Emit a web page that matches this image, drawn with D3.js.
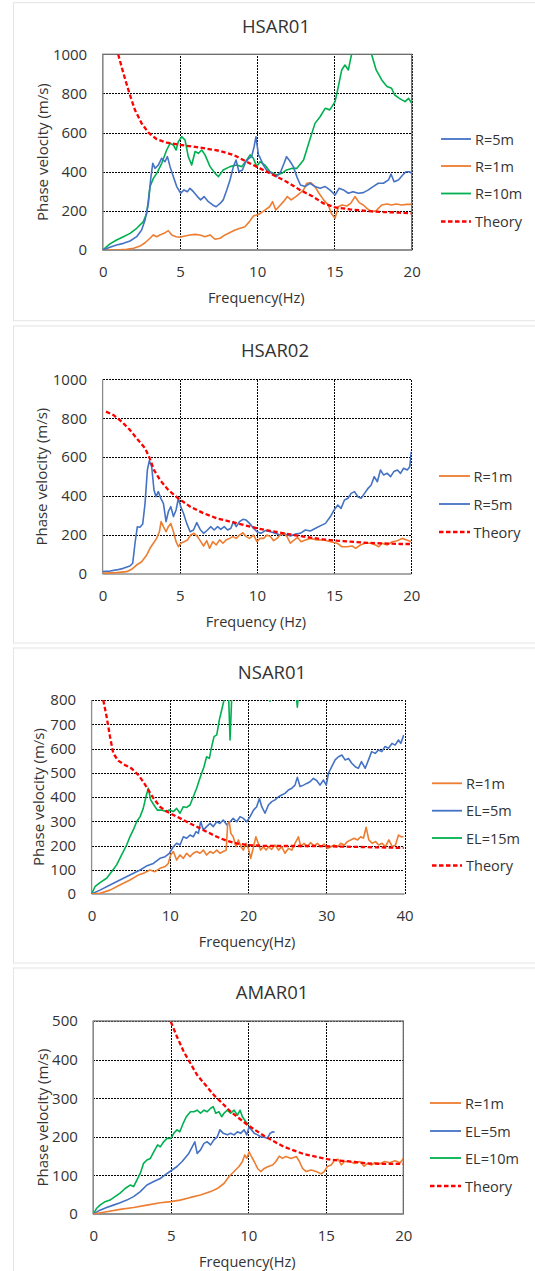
<!DOCTYPE html>
<html>
<head>
<meta charset="utf-8">
<script src="https://cdn.jsdelivr.net/npm/d3@7"></script>
<style>
  body { margin: 0; background: #fff; font-family: "Open Sans", sans-serif; }
</style>
</head>
<body>
<div id="chart"></div>
<script>
/* DATA : [frequency (Hz), phase velocity (m/s)] */

// HSAR01
const hsar01R5 = [[0,0],[0.47,14],[0.9,26],[1.34,34],[1.77,46],[2.2,68],[2.52,102],[2.74,153],[2.96,239],[3.1,358],[3.24,443],[3.39,417],[3.6,434],[3.82,469],[4.03,451],[4.19,477],[4.36,426],[4.57,375],[4.79,324],[5.05,290],[5.26,307],[5.48,298],[5.65,315],[5.87,298],[6.13,273],[6.34,256],[6.56,273],[6.84,247],[7.12,230],[7.34,221],[7.6,238],[7.8,256],[8.03,307],[8.24,358],[8.46,426],[8.63,460],[8.82,400],[9.04,409],[9.26,451],[9.47,469],[9.64,477],[9.8,528],[9.92,579],[10.08,486],[10.2,469],[10.4,434],[10.6,409],[10.94,392],[11.26,375],[11.52,400],[11.74,443],[11.9,477],[12.1,456],[12.34,426],[12.56,375],[12.8,332],[13.1,324],[13.42,341],[13.74,324],[14.07,315],[14.4,324],[14.7,307],[15.04,281],[15.3,315],[15.58,307],[15.9,290],[16.2,298],[16.55,290],[16.87,293],[17.2,307],[17.5,324],[17.84,341],[18.17,341],[18.5,358],[18.66,388],[18.86,349],[19.14,358],[19.42,383],[19.63,400],[19.85,400],[20,392]];
const hsar01R1 = [[0,0],[0.9,0],[1.55,3],[2.0,9],[2.42,20],[2.74,37],[3.06,60],[3.28,77],[3.5,68],[3.7,77],[3.97,85],[4.25,99],[4.47,77],[4.75,68],[5.0,65],[5.33,72],[5.65,77],[5.98,80],[6.3,77],[6.62,68],[6.95,77],[7.27,55],[7.6,60],[7.92,77],[8.24,89],[8.57,102],[8.9,111],[9.2,119],[9.5,145],[9.75,174],[9.97,179],[10.2,187],[10.5,204],[10.8,221],[11.0,247],[11.2,204],[11.4,221],[11.7,247],[11.95,273],[12.2,256],[12.5,273],[12.77,290],[13.0,307],[13.2,341],[13.46,344],[13.74,324],[14.0,290],[14.3,256],[14.6,230],[14.8,187],[15.04,162],[15.25,221],[15.5,230],[15.8,225],[16.05,238],[16.33,273],[16.6,242],[16.87,230],[17.1,213],[17.4,196],[17.7,201],[18.06,230],[18.4,235],[18.7,230],[19.0,235],[19.35,230],[19.68,233],[20,233]];
const hsar01R10 = [[0,0],[0.47,31],[0.9,51],[1.34,68],[1.77,85],[2.2,111],[2.63,145],[2.85,187],[3.06,324],[3.28,366],[3.5,392],[3.82,443],[4.14,511],[4.36,545],[4.57,537],[4.75,511],[4.9,554],[5.11,579],[5.33,562],[5.54,477],[5.76,434],[5.98,503],[6.19,494],[6.41,511],[6.62,486],[6.95,426],[7.27,392],[7.49,375],[7.8,409],[8.24,426],[8.67,434],[9.0,426],[9.32,460],[9.54,486],[9.75,469],[9.97,426],[10.18,451],[10.5,434],[10.83,400],[11.26,383],[11.59,392],[11.9,409],[12.23,417],[12.56,417],[13.0,460],[13.4,562],[13.74,647],[14.07,681],[14.4,724],[14.7,716],[15.04,758],[15.25,835],[15.47,920],[15.68,945],[15.9,920],[16.1,997],[16.5,1060],[17.0,1080],[17.4,1000],[17.7,920],[18.06,869],[18.4,835],[18.7,826],[18.9,792],[19.2,775],[19.57,758],[19.8,775],[20,750]];
const hsar01Theory = [[1.0,1000],[1.34,903],[1.73,800],[2.09,715],[2.52,647],[2.96,600],[3.5,566],[4.14,549],[5.0,537],[5.87,528],[6.73,518],[7.6,506],[8.46,486],[9.32,451],[10.18,417],[11.05,383],[11.9,349],[12.77,307],[13.6,273],[14.3,238],[15.04,218],[16.0,208],[17.1,199],[18.2,194],[19.2,191],[20,187]];

// HSAR02
const hsar02R1 = [[0,3],[0.9,7],[1.56,12],[1.88,24],[2.2,46],[2.53,63],[2.86,98],[3.07,132],[3.29,158],[3.5,183],[3.68,217],[3.79,269],[3.94,243],[4.11,217],[4.26,243],[4.42,260],[4.59,217],[4.76,166],[4.91,140],[5.06,158],[5.28,166],[5.5,175],[5.71,200],[5.93,209],[6.15,192],[6.36,166],[6.54,144],[6.75,171],[6.93,132],[7.14,166],[7.36,149],[7.58,175],[7.8,158],[8.0,175],[8.22,183],[8.44,192],[8.66,183],[8.87,200],[9.09,212],[9.3,192],[9.52,183],[9.78,200],[10.0,166],[10.2,183],[10.43,183],[10.65,200],[10.87,192],[11.08,171],[11.3,183],[11.5,200],[11.73,212],[11.95,192],[12.16,158],[12.42,175],[12.64,188],[12.86,166],[13.14,175],[13.46,183],[13.9,175],[14.33,175],[14.76,166],[15.2,158],[15.5,140],[15.84,140],[16.17,144],[16.4,132],[16.7,149],[17.0,158],[17.36,158],[17.68,149],[17.9,140],[18.1,158],[18.44,149],[18.77,166],[19.1,171],[19.4,183],[19.7,175],[20,166]];
const hsar02R5 = [[0,12],[0.48,15],[0.9,21],[1.34,29],[1.77,41],[1.95,55],[2.1,158],[2.25,243],[2.42,240],[2.6,257],[2.75,363],[2.9,534],[3.03,582],[3.18,551],[3.33,431],[3.46,397],[3.61,423],[3.77,389],[3.94,363],[4.11,269],[4.26,320],[4.42,346],[4.59,295],[4.76,329],[4.91,389],[5.06,346],[5.24,312],[5.45,260],[5.67,217],[5.89,226],[6.1,264],[6.32,229],[6.54,209],[6.8,226],[7.0,243],[7.23,226],[7.45,243],[7.66,229],[7.88,243],[8.1,226],[8.31,235],[8.48,269],[8.66,243],[8.87,269],[9.09,281],[9.3,277],[9.52,260],[9.78,235],[10.0,217],[10.26,209],[10.54,223],[10.87,217],[11.19,209],[11.5,200],[11.84,205],[12.16,195],[12.5,205],[12.8,209],[13.14,226],[13.46,221],[13.8,235],[14.1,247],[14.44,260],[14.76,295],[15.0,329],[15.24,354],[15.45,337],[15.67,380],[15.9,389],[16.1,414],[16.32,423],[16.54,397],[16.75,389],[16.97,414],[17.2,440],[17.4,457],[17.6,500],[17.8,474],[18.0,534],[18.2,509],[18.44,517],[18.66,500],[18.87,526],[19.1,534],[19.3,517],[19.5,543],[19.74,534],[19.9,551],[20,628]];
const hsar02Theory = [[0.22,834],[0.69,817],[1.23,783],[1.77,740],[2.3,688],[2.75,646],[3.03,599],[3.33,534],[3.72,483],[4.26,431],[4.9,389],[5.67,346],[6.54,312],[7.4,286],[8.27,269],[9.13,252],[10.0,235],[10.87,221],[11.73,209],[12.6,197],[13.46,187],[14.3,178],[15.2,171],[16.06,166],[16.9,161],[17.8,158],[18.66,156],[19.3,154],[20,154]];

// NSAR01
const nsar01R1 = [[0,0],[1.07,3],[2.35,16],[3.62,37],[4.9,58],[5.97,78],[6.8,88],[7.46,99],[8.1,92],[8.74,106],[9.4,113],[9.8,126],[10.1,161],[10.45,175],[10.87,140],[11.3,161],[11.73,147],[12.15,168],[12.58,154],[13.0,168],[13.43,175],[13.86,168],[14.3,181],[14.7,161],[15.14,175],[15.56,168],[16.0,181],[16.4,168],[16.84,175],[17.2,181],[17.4,291],[17.6,298],[17.8,250],[18.1,236],[18.46,195],[18.76,223],[19.1,195],[19.4,181],[19.74,209],[20.04,188],[20.34,147],[20.7,195],[21.0,236],[21.3,209],[21.6,181],[21.96,195],[22.3,181],[22.64,195],[23.0,184],[23.45,202],[23.9,181],[24.3,195],[24.73,168],[25.16,188],[25.6,181],[26.0,209],[26.44,236],[26.74,195],[27.16,209],[27.6,195],[28.0,212],[28.44,198],[28.87,209],[29.3,195],[29.72,206],[30.15,188],[30.6,195],[31.0,202],[31.43,195],[31.86,209],[32.3,202],[32.7,216],[33.13,223],[33.56,230],[34.0,223],[34.4,236],[34.75,230],[35.1,275],[35.44,223],[35.86,209],[36.3,216],[36.7,202],[37.14,209],[37.57,195],[38.0,223],[38.42,195],[38.85,202],[39.23,243],[39.57,236],[39.87,236]];
const nsar01EL5 = [[0,0],[1.07,16],[2.35,37],[3.62,58],[4.9,78],[6.2,99],[7.0,115],[7.9,126],[8.74,147],[9.4,154],[9.94,168],[10.45,195],[10.87,209],[11.3,202],[11.73,236],[12.15,230],[12.58,243],[13.0,236],[13.35,257],[13.65,250],[13.94,298],[14.3,264],[14.7,278],[15.14,291],[15.56,278],[16.0,298],[16.4,291],[16.84,305],[17.27,285],[17.7,298],[18.1,312],[18.55,298],[18.98,319],[19.4,312],[19.83,298],[20.26,319],[20.7,346],[21.1,360],[21.45,394],[21.75,360],[22.17,333],[22.6,367],[23.03,381],[23.45,388],[23.9,401],[24.3,408],[24.73,415],[25.16,429],[25.6,436],[26.0,449],[26.3,481],[26.65,443],[27.1,449],[27.5,456],[27.93,463],[28.36,477],[28.8,467],[29.2,449],[29.64,470],[30.0,449],[30.28,498],[30.7,525],[31.13,553],[31.56,566],[32.0,573],[32.4,553],[32.84,559],[33.26,539],[33.7,525],[34.1,518],[34.5,546],[34.97,518],[35.4,553],[35.8,587],[36.25,580],[36.67,594],[37.1,587],[37.5,608],[37.95,601],[38.4,621],[38.8,614],[39.23,635],[39.53,621],[39.9,656]];
const nsar01EL15 = [[0,0],[0.43,30],[1.07,47],[1.92,65],[2.56,92],[3.2,120],[3.84,161],[4.48,202],[4.9,236],[5.33,264],[5.76,298],[6.2,319],[6.6,353],[6.95,401],[7.25,436],[7.55,388],[7.97,367],[8.4,346],[8.95,346],[9.5,340],[9.94,346],[10.45,340],[10.87,353],[11.3,333],[11.73,360],[12.15,357],[12.58,367],[13.0,401],[13.43,436],[13.77,470],[14.07,498],[14.37,525],[14.7,566],[15.05,559],[15.35,608],[15.65,649],[16.0,656],[16.33,718],[16.63,759],[16.93,800],[17.2,880],[17.48,850],[17.7,635],[17.9,800],[18.3,900],[22.0,900],[22.8,795],[23.2,900],[26.0,880],[26.3,770],[26.6,880],[27.5,950]];
const nsar01Theory = [[1.49,800],[1.92,731],[2.35,649],[2.77,580],[3.4,550],[4.26,532],[5.1,518],[5.97,491],[6.6,463],[7.25,429],[7.9,395],[8.74,360],[9.6,340],[10.9,319],[12.15,298],[13.4,278],[14.7,257],[16.0,236],[17.3,219],[18.55,209],[19.8,202],[21.5,199],[24.1,198],[28.4,198],[32.6,195],[36.9,192],[39.9,190]];

// AMAR01
const amar01R1 = [[0,0],[0.86,6],[1.73,12],[2.6,17],[3.46,23],[4.32,29],[5.0,32],[5.6,36],[6.27,43],[6.92,49],[7.57,58],[8.0,66],[8.43,79],[8.76,97],[9.08,110],[9.4,123],[9.62,136],[9.77,153],[9.9,144],[10.05,161],[10.2,149],[10.38,136],[10.6,118],[10.8,110],[11.03,118],[11.29,123],[11.57,127],[11.78,136],[12.0,150],[12.2,144],[12.43,149],[12.76,144],[13.1,149],[13.3,136],[13.5,118],[13.73,110],[14.05,114],[14.38,110],[14.7,104],[14.9,110],[15.1,123],[15.35,127],[15.57,140],[15.8,142],[16.0,127],[16.2,136],[16.54,136],[16.86,131],[17.2,136],[17.47,124],[17.7,131],[17.95,127],[18.16,133],[18.5,130],[18.8,136],[19.14,133],[19.46,138],[19.8,133],[20,144]];
const amar01EL5 = [[0,0],[0.43,10],[0.86,17],[1.3,23],[1.73,29],[2.16,36],[2.6,45],[3.03,58],[3.46,75],[3.9,84],[4.32,92],[4.76,105],[5.08,114],[5.4,123],[5.73,136],[6.0,149],[6.16,157],[6.38,174],[6.55,187],[6.7,157],[6.92,166],[7.14,183],[7.35,187],[7.57,179],[7.78,192],[8.0,200],[8.17,218],[8.39,209],[8.65,205],[8.86,209],[9.08,205],[9.3,213],[9.5,209],[9.73,218],[9.9,205],[10.05,226],[10.2,218],[10.38,209],[10.6,205],[10.8,200],[11.03,199],[11.24,196],[11.4,209],[11.57,213],[11.7,212]];
const amar01EL10 = [[0,0],[0.22,15],[0.43,23],[0.76,32],[1.08,36],[1.4,45],[1.73,54],[2.05,66],[2.38,75],[2.6,71],[2.81,88],[3.03,105],[3.24,131],[3.46,140],[3.68,144],[3.9,161],[4.15,179],[4.32,174],[4.54,187],[4.76,196],[5.0,196],[5.19,209],[5.4,218],[5.58,213],[5.8,235],[6.0,252],[6.27,265],[6.49,265],[6.7,269],[6.92,261],[7.14,269],[7.35,265],[7.57,274],[7.74,278],[7.9,261],[8.1,265],[8.28,252],[8.43,261],[8.65,269],[8.86,261],[9.08,269],[9.3,256],[9.47,269],[9.62,252],[9.84,239],[10.0,231]];
const amar01Theory = [[5.0,498],[5.4,459],[5.84,420],[6.27,390],[6.7,360],[7.24,334],[7.78,308],[8.32,287],[8.86,265],[9.4,248],[9.95,231],[10.5,216],[11.03,202],[11.7,187],[12.3,174],[12.97,164],[13.6,155],[14.27,149],[15.1,142],[16.0,138],[16.86,135],[17.7,131],[18.6,130],[20,130]];

// tick values
const freqTicks20 = [0, 5, 10, 15, 20];
const freqTicks40 = [0, 10, 20, 30, 40];
const velTicks1000 = [0, 200, 400, 600, 800, 1000];
const velTicks800 = [0, 100, 200, 300, 400, 500, 600, 700, 800];
const velTicks500 = [0, 100, 200, 300, 400, 500];

/* STYLES */
const colors = { blue: "#4472C4", orange: "#ED7D31", green: "#00B050", red: "#FF0000" };
const textColor = "#333";

/* PANEL LAYOUT */
const panels = [
  {
    title: "HSAR01", titleX: 276, titleY: 25,
    card: [2.7, 318],
    left: 102.7, right: 411.7, top: 54.3, bottom: 250,
    xTicks: freqTicks20, yTicks: velTicks1000,
    xLabel: "Frequency(Hz)", yLabelX: 41.7, border: true,
    legend: { x1: 441, x2: 471, tx: 475, rows: [139, 166, 193.5, 221.5] },
    series: [
      { name: "R=5m", data: hsar01R5, color: colors.blue },
      { name: "R=1m", data: hsar01R1, color: colors.orange },
      { name: "R=10m", data: hsar01R10, color: colors.green },
      { name: "Theory", data: hsar01Theory, color: colors.red, dash: true }
    ]
  },
  {
    title: "HSAR02", titleX: 275, titleY: 349,
    card: [326, 317],
    left: 102.6, right: 411.3, top: 379.3, bottom: 574,
    xTicks: freqTicks20, yTicks: velTicks1000,
    xLabel: "Frequency (Hz)", yLabelX: 41.2, border: false,
    legend: { x1: 439, x2: 470, tx: 473.5, rows: [476, 504, 532] },
    series: [
      { name: "R=1m", data: hsar02R1, color: colors.orange },
      { name: "R=5m", data: hsar02R5, color: colors.blue },
      { name: "Theory", data: hsar02Theory, color: colors.red, dash: true }
    ]
  },
  {
    title: "NSAR01", titleX: 272, titleY: 671.7,
    card: [648, 315],
    left: 91.6, right: 404.5, top: 700, bottom: 894,
    xTicks: freqTicks40, yTicks: velTicks800,
    xLabel: "Frequency(Hz)", yLabelX: 37.6, border: false,
    legend: { x1: 432, x2: 462, tx: 466, rows: [783.3, 810.7, 838, 865.5] },
    series: [
      { name: "R=1m", data: nsar01R1, color: colors.orange },
      { name: "EL=5m", data: nsar01EL5, color: colors.blue },
      { name: "EL=15m", data: nsar01EL15, color: colors.green },
      { name: "Theory", data: nsar01Theory, color: colors.red, dash: true }
    ]
  },
  {
    title: "AMAR01", titleX: 272, titleY: 991.7,
    card: [968, 320],
    left: 93.3, right: 403.3, top: 1021, bottom: 1214,
    xTicks: freqTicks20, yTicks: velTicks500,
    xLabel: "Frequency(Hz)", yLabelX: 41.7, border: true,
    legend: { x1: 430, x2: 461, tx: 465, rows: [1103, 1131, 1158, 1186] },
    series: [
      { name: "R=1m", data: amar01R1, color: colors.orange },
      { name: "EL=5m", data: amar01EL5, color: colors.blue },
      { name: "EL=10m", data: amar01EL10, color: colors.green },
      { name: "Theory", data: amar01Theory, color: colors.red, dash: true }
    ]
  }
];

const svg = d3.select("#chart").append("svg")
  .attr("width", 535)
  .attr("height", 1271)
  .style("display", "block");

panels.forEach((p, i) => {
  // card frame
  svg.append("rect")
    .attr("x", 13.5).attr("y", p.card[0])
    .attr("width", 540).attr("height", p.card[1])
    .attr("fill", "#fff").attr("stroke", "#e4e4e4");

  const xScale = d3.scaleLinear()
    .domain(d3.extent(p.xTicks))
    .range([p.left, p.right]);
  const yScale = d3.scaleLinear()
    .domain(d3.extent(p.yTicks))
    .range([p.bottom, p.top]);

  const g = svg.append("g");

  // gridlines (dotted)
  g.append("g")
    .attr("class", "grid")
    .attr("transform", `translate(0, ${p.bottom})`)
    .call(d3.axisBottom(xScale).tickValues(p.xTicks.slice(1)).tickSize(-(p.bottom - p.top)).tickFormat(""));
  g.append("g")
    .attr("class", "grid")
    .attr("transform", `translate(${p.left}, 0)`)
    .call(d3.axisLeft(yScale).tickValues(p.yTicks.slice(1)).tickSize(-(p.right - p.left)).tickFormat(""));
  g.selectAll(".grid .domain").remove();
  g.selectAll(".grid line")
    .attr("stroke", "#000")
    .attr("stroke-width", 1)
    .attr("stroke-dasharray", "2,1")
    .attr("shape-rendering", "crispEdges");

  // axis lines
  if (p.border) {
    g.append("rect")
      .attr("x", p.left).attr("y", p.top)
      .attr("width", p.right - p.left).attr("height", p.bottom - p.top)
      .attr("fill", "none").attr("stroke", "#6f6f6f").attr("stroke-width", 1.3);
  }
  g.append("line")
    .attr("x1", p.left).attr("x2", p.left).attr("y1", p.top).attr("y2", p.bottom)
    .attr("stroke", "#8c8c8c").attr("stroke-width", 1.3);
  g.append("line")
    .attr("x1", p.left).attr("x2", p.right).attr("y1", p.bottom).attr("y2", p.bottom)
    .attr("stroke", "#8c8c8c").attr("stroke-width", 1.3);

  // tick labels
  const xAxis = g.append("g")
    .attr("transform", `translate(0, ${p.bottom})`)
    .call(d3.axisBottom(xScale).tickValues(p.xTicks).tickSize(0).tickPadding(16.5).tickFormat(d3.format("d")));
  const yAxis = g.append("g")
    .attr("transform", `translate(${p.left}, 0)`)
    .call(d3.axisLeft(yScale).tickValues(p.yTicks).tickSize(0).tickPadding(15.5).tickFormat(d3.format("d")));
  [xAxis, yAxis].forEach(a => {
    a.select(".domain").remove();
    a.attr("font-family", "'Open Sans', sans-serif").attr("font-size", 15);
    a.selectAll("text").attr("fill", textColor);
  });

  // titles
  g.append("text")
    .attr("x", p.titleX).attr("y", p.titleY)
    .attr("text-anchor", "middle").attr("dominant-baseline", "central")
    .attr("font-size", 18.5).attr("fill", textColor)
    .text(p.title);
  g.append("text")
    .attr("x", (p.left + p.right) / 2 - 1).attr("y", p.bottom + 47)
    .attr("text-anchor", "middle").attr("dominant-baseline", "central")
    .attr("font-size", 14.5).attr("fill", textColor)
    .text(p.xLabel);
  g.append("text")
    .attr("transform", `translate(${p.yLabelX}, ${(p.top + p.bottom) / 2}) rotate(-90)`)
    .attr("text-anchor", "middle").attr("dominant-baseline", "central")
    .attr("font-size", 15).attr("fill", textColor)
    .text("Phase velocity (m/s)");

  // clip for data lines
  const clipId = "clip" + i;
  svg.append("clipPath").attr("id", clipId)
    .append("rect")
    .attr("x", p.left).attr("y", p.top)
    .attr("width", p.right - p.left).attr("height", p.bottom - p.top);

  const lineGen = d3.line()
    .x(d => xScale(d[0]))
    .y(d => yScale(d[1]));

  g.append("g")
    .attr("clip-path", `url(#${clipId})`)
    .selectAll("path")
    .data(p.series.slice().reverse().filter(s => !s.dash).concat(p.series.filter(s => s.dash)))
    .join("path")
    .attr("fill", "none")
    .attr("stroke", s => s.color)
    .attr("stroke-width", s => s.dash ? 2.3 : 1.6)
    .attr("stroke-dasharray", s => s.dash ? "4.5,2.5" : null)
    .attr("stroke-linejoin", "round")
    .attr("d", s => lineGen(s.data));

  // legend
  const leg = g.append("g")
    .selectAll("g")
    .data(p.series)
    .join("g")
    .attr("transform", (s, j) => `translate(0, ${p.legend.rows[j]})`);
  leg.append("line")
    .attr("x1", p.legend.x1).attr("x2", p.legend.x2)
    .attr("stroke", s => s.color)
    .attr("stroke-width", s => s.dash ? 2.3 : 1.8)
    .attr("stroke-dasharray", s => s.dash ? "4.5,2.5" : null);
  leg.append("text")
    .attr("x", p.legend.tx)
    .attr("dominant-baseline", "central")
    .attr("font-size", 14.5).attr("fill", textColor)
    .text(s => s.name);
});
</script>
</body>
</html>
